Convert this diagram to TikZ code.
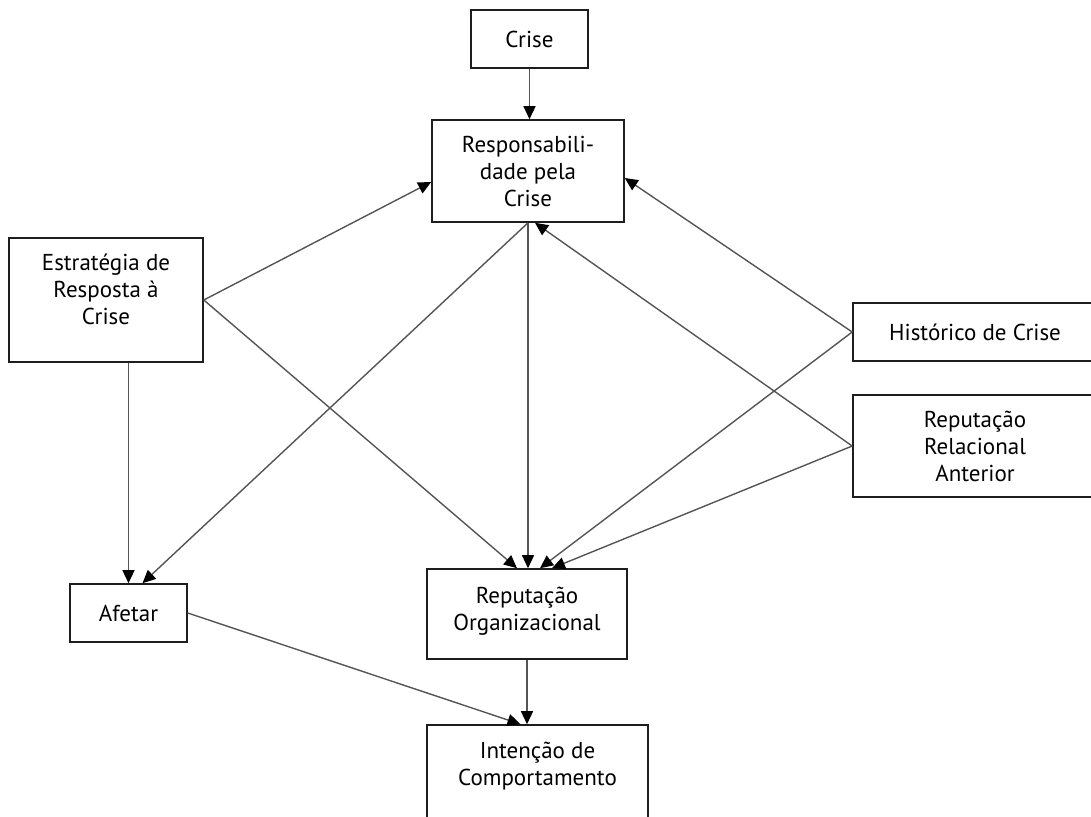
\documentclass[tikz,border=0pt]{standalone}
\usepackage{fontspec}
\setmainfont{PT Sans}
\usepackage{tikz}
\usetikzlibrary{arrows.meta}
\definecolor{edgegray}{HTML}{555555}
\definecolor{boxline}{HTML}{1E1E1E}

\begin{document}
\begin{tikzpicture}[
  x=1pt,y=-1pt,
  box/.style={draw=boxline,line width=1.6pt,align=center,inner sep=0pt,
    font=\fontsize{23}{27}\selectfont},
  arr/.style={-{Triangle[length=13pt,width=12pt,color=black]},draw=edgegray,line width=1.4pt}
]
\useasboundingbox (0,0) rectangle (1091,816);
% boxes
\node[box,minimum width=117pt,minimum height=58pt] (crise) at (529.5,39) {Crise};
\node[box,minimum width=192pt,minimum height=102pt] (resp) at (528,171) {Responsabili-\\dade pela\\Crise};
\node[box,minimum width=194pt,minimum height=124pt,text depth=22pt] (estr) at (106,300) {Estratégia de\\Resposta à\\Crise};
\node[box,minimum width=244pt,minimum height=58pt] (hist) at (975,332) {Histórico de Crise};
\node[box,minimum width=244pt,minimum height=102pt] (rra) at (975,446) {Reputação\\Relacional\\Anterior};
\node[box,minimum width=117pt,minimum height=58pt] (afetar) at (128.5,613) {Afetar};
\node[box,minimum width=200pt,minimum height=90pt,text depth=10pt] (reporg) at (527,614) {Reputação\\Organizacional};
\node[box,minimum width=221pt,minimum height=102pt,text depth=25pt] (intencao) at (537.5,776) {Intenção de\\Comportamento};
% connectors
\draw[arr] (crise.south) -- (crise.south |- resp.north);
\draw[arr] (estr.east) -- ([yshift=-11pt]resp.west);
\draw[arr] (estr.east) -- ([xshift=-10pt]reporg.north);
\draw[arr] (estr.south -| afetar.north) -- (afetar.north);
\draw[arr] (resp.south) -- ([xshift=14pt]afetar.north);
\draw[arr] (resp.south) -- (resp.south |- reporg.north);
\draw[arr] (hist.west) -- ([yshift=-7pt]resp.east);
\draw[arr] (hist.west) -- ([xshift=13pt]reporg.north);
\draw[arr] (rra.west) -- ([xshift=7pt]resp.south);
\draw[arr] (rra.west) -- ([xshift=25pt]reporg.north);
\draw[arr] (afetar.east) -- ([xshift=-17pt]intencao.north);
\draw[arr] (reporg.south) -- (reporg.south |- intencao.north);
\end{tikzpicture}
\end{document}
